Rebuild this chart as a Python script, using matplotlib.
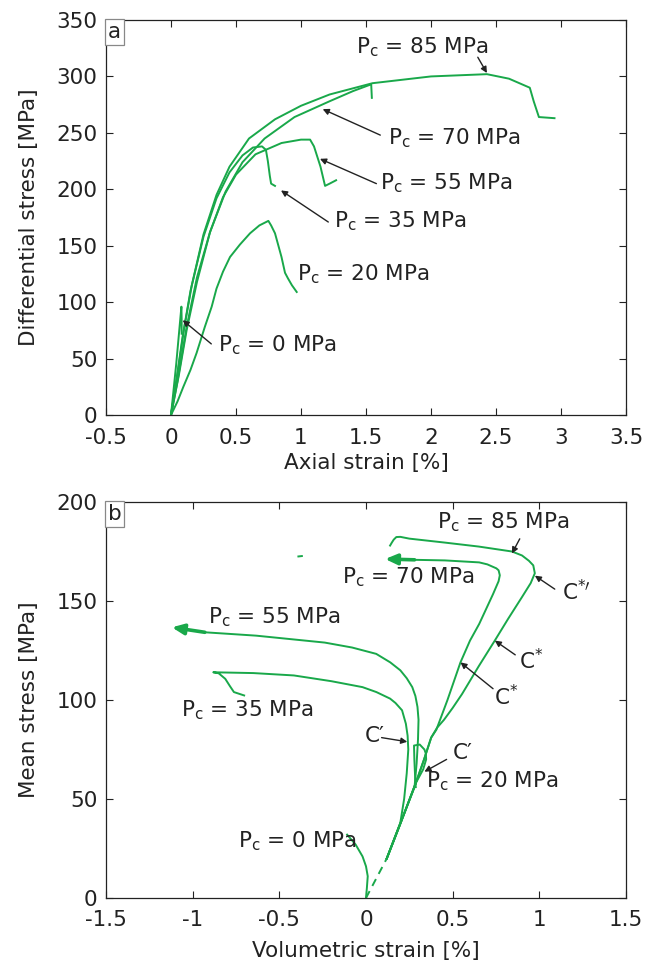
import matplotlib
matplotlib.use('Agg')
import matplotlib.pyplot as plt

plt.rcParams['font.family'] = ['DejaVu Sans']
plt.rcParams['mathtext.fontset'] = 'dejavusans'

green = '#19a84a'
txt = '#222222'
fs = 15.5

# ---- panel a: axial strain [%] vs differential stress [MPa]
a_x0 = [0, 0.04, 0.08, 0.082, 0.082]
a_y0 = [0, 45, 96, 85, 72]
a_x20 = [0, 0.05, 0.095, 0.15, 0.197, 0.26, 0.313, 0.35, 0.4, 0.454, 0.53, 0.608, 0.68, 0.749, 0.77, 0.8, 0.85, 0.877, 0.9, 0.93, 0.967]
a_y20 = [0, 12, 25, 40, 55, 78, 96, 112, 127, 140, 151, 161, 168, 172, 168, 161, 140, 126, 121, 115, 109]
a_x35 = [0, 0.04, 0.09, 0.15, 0.25, 0.35, 0.45, 0.55, 0.63, 0.7, 0.73, 0.745, 0.76, 0.77, 0.8]
a_y35 = [0, 30, 70, 110, 158, 192, 215, 230, 237, 238, 235, 225, 212, 205, 203]
a_x55 = [0, 0.06, 0.12, 0.2, 0.3, 0.4, 0.5, 0.65, 0.85, 1.0, 1.07, 1.1, 1.15, 1.185, 1.22, 1.27]
a_y55 = [0, 35, 75, 118, 162, 193, 213, 231, 241, 244, 244, 238, 220, 203, 205, 208]
a_x70 = [0, 0.05, 0.12, 0.2, 0.3, 0.42, 0.55, 0.72, 0.95, 1.22, 1.4, 1.54, 1.545]
a_y70 = [0, 30, 78, 122, 162, 198, 224, 245, 264, 278, 287, 293, 281]
a_x85 = [0, 0.05, 0.1, 0.16, 0.25, 0.35, 0.45, 0.6, 0.8, 1.0, 1.22, 1.55, 2.0, 2.43, 2.6, 2.76, 2.79, 2.83, 2.95]
a_y85 = [0, 36, 76, 115, 160, 195, 220, 245, 262, 274, 284, 294, 300, 302, 298, 290, 278, 264, 263]

a_labels = ['P$_\\mathregular{c}$ = 0 MPa', 'P$_\\mathregular{c}$ = 20 MPa', 'P$_\\mathregular{c}$ = 35 MPa',
            'P$_\\mathregular{c}$ = 55 MPa', 'P$_\\mathregular{c}$ = 70 MPa', 'P$_\\mathregular{c}$ = 85 MPa']
a_label_xy = [(0.36, 62), (0.97, 125), (1.25, 172), (1.61, 205), (1.67, 245), (1.42, 326)]
a_arrow_from = [(0.31, 63), None, (1.21, 171), (1.58, 205), (1.61, 248), (2.36, 317)]
a_arrow_to = [(0.09, 84), None, (0.846, 199), (1.146, 227), (1.167, 271), (2.43, 303)]

# ---- panel b: volumetric strain [%] vs mean stress [MPa]
b_x_dash = [0.0, 0.06, 0.12]
b_y_dash = [0, 10, 20]
b_x0 = [0.0, 0.005, 0.01, 0.0, -0.02, -0.06, -0.109]
b_y0 = [0, 5, 11, 16, 21, 27, 32]
b_x20 = [0.12, 0.2, 0.287, 0.33, 0.347, 0.345, 0.337, 0.31, 0.277, 0.279, 0.283, 0.287]
b_y20 = [20, 38, 58, 65, 70, 73, 75, 77.5, 77, 70, 62, 56]
b_x35 = [0.12, 0.198, 0.22, 0.235, 0.244, 0.24, 0.23, 0.208, 0.17, 0.139, 0.06, -0.02, -0.2, -0.416, -0.65, -0.881, -0.85, -0.812, -0.785, -0.762, -0.703]
b_y35 = [20, 38, 50, 63, 75, 82, 88, 94.8, 98.5, 100.7, 104, 106.5, 109.5, 112.4, 113.6, 114, 113.5, 110.7, 107, 104, 102.3]
b_x55 = [0.12, 0.2, 0.28, 0.292, 0.3, 0.303, 0.297, 0.285, 0.267, 0.235, 0.198, 0.14, 0.059, -0.08, -0.238, -0.634, -0.93]
b_y55 = [20, 38, 56, 68, 80, 90, 96.5, 102, 106.5, 111, 115, 119, 123.3, 126.5, 129, 132.5, 134.2]
b_x70 = [0.12, 0.2, 0.287, 0.335, 0.376, 0.406, 0.47, 0.545, 0.6, 0.653, 0.733, 0.765, 0.772, 0.765, 0.752, 0.7, 0.653, 0.455, 0.28]
b_y70 = [20, 38, 58, 70, 81, 85, 100, 119, 130, 138.4, 153.5, 160, 163, 165.5, 166.5, 168.5, 169.5, 170.5, 170.8]
b_x85 = [0.12, 0.2, 0.287, 0.335, 0.376, 0.41, 0.45, 0.5, 0.554, 0.65, 0.743, 0.82, 0.9, 0.95, 0.974, 0.965, 0.94, 0.9, 0.842, 0.65, 0.455, 0.25, 0.198, 0.175, 0.16, 0.149, 0.139]
b_y85 = [20, 38, 58, 70, 81, 86, 90, 96, 103, 117, 130, 141, 152, 159, 164, 168, 170.3, 173, 175, 177.5, 179.5, 181.5, 182.4, 182.3, 181, 179.5, 178]
b_x_stray = [-0.39, -0.37]
b_y_stray = [172.5, 172.7]

# thick arrows at end of the 55 and 70 MPa paths
b_arrow_from = [(-0.93, 134.2), (0.28, 170.8)]
b_arrow_to = [(-1.12, 136.7), (0.11, 171.2)]

b_labels = ['P$_\\mathregular{c}$ = 0 MPa', 'P$_\\mathregular{c}$ = 20 MPa', 'P$_\\mathregular{c}$ = 35 MPa',
            'P$_\\mathregular{c}$ = 55 MPa', 'P$_\\mathregular{c}$ = 70 MPa', 'P$_\\mathregular{c}$ = 85 MPa',
            'C\u2032', 'C\u2032', 'C$^{*}$', 'C$^{*}$', 'C$^{*\\prime}$']
b_label_xy = [(-0.74, 28.5), (0.345, 59), (-1.07, 95), (-0.91, 142), (-0.14, 162), (0.41, 190),
              (-0.01, 82), (0.5, 73), (0.74, 101.5), (0.88, 120), (1.13, 154.5)]
b_arrow_src = [None, None, None, None, None, (0.887, 181.4),
               (0.09, 81), (0.465, 70), (0.733, 105.7), (0.861, 122.8), (1.089, 156)]
b_arrow_dst = [None, None, None, None, None, (0.842, 174),
               (0.238, 78.9), (0.337, 63.8), (0.545, 119), (0.743, 130), (0.974, 162.8)]

fig = plt.figure(figsize=(6.5, 9.63), dpi=100)
ax1 = fig.add_axes([106 / 650, 1 - 415 / 963, 520 / 650, 395 / 963])
ax2 = fig.add_axes([106 / 650, 1 - 898 / 963, 520 / 650, 396 / 963])

thin = dict(arrowstyle='-|>', color=txt, lw=1.0, mutation_scale=9, shrinkA=0, shrinkB=0)

for xs, ys in [(a_x0, a_y0), (a_x20, a_y20), (a_x35, a_y35), (a_x55, a_y55), (a_x70, a_y70), (a_x85, a_y85)]:
    ax1.plot(xs, ys, color=green, lw=1.4)
for lab, xy, src, dst in zip(a_labels, a_label_xy, a_arrow_from, a_arrow_to):
    ax1.text(xy[0], xy[1], lab, fontsize=fs, color=txt, ha='left', va='center')
    if src is not None:
        ax1.annotate('', xy=dst, xytext=src, arrowprops=thin)

ax1.set_xlim(-0.5, 3.5)
ax1.set_ylim(0, 350)
ax1.set_xticks([-0.5, 0, 0.5, 1, 1.5, 2, 2.5, 3, 3.5])
ax1.set_xticklabels(['-0.5', '0', '0.5', '1', '1.5', '2', '2.5', '3', '3.5'])
ax1.set_yticks(range(0, 351, 50))
ax1.set_xlabel('Axial strain [%]', fontsize=fs, color=txt)
ax1.set_ylabel('Differential stress [MPa]', fontsize=fs, color=txt)
ax1.xaxis.set_label_coords(0.5, -0.097)
ax1.yaxis.set_label_coords(-0.128, 0.5)

ax2.plot(b_x_dash, b_y_dash, color=green, lw=1.4, ls=(0, (4, 3)))
for xs, ys in [(b_x0, b_y0), (b_x20, b_y20), (b_x35, b_y35), (b_x55, b_y55), (b_x70, b_y70), (b_x85, b_y85), (b_x_stray, b_y_stray)]:
    ax2.plot(xs, ys, color=green, lw=1.4)
for src, dst in zip(b_arrow_from, b_arrow_to):
    ax2.annotate('', xy=dst, xytext=src,
                 arrowprops=dict(arrowstyle='-|>,head_length=0.5,head_width=0.22', color=green, lw=2.6,
                                 mutation_scale=14, shrinkA=0, shrinkB=0))
for lab, xy, src, dst in zip(b_labels, b_label_xy, b_arrow_src, b_arrow_dst):
    ax2.text(xy[0], xy[1], lab, fontsize=fs, color=txt, ha='left', va='center')
    if src is not None:
        ax2.annotate('', xy=dst, xytext=src, arrowprops=thin)

ax2.set_xlim(-1.5, 1.5)
ax2.set_ylim(0, 200)
ax2.set_xticks([-1.5, -1, -0.5, 0, 0.5, 1, 1.5])
ax2.set_xticklabels(['-1.5', '-1', '-0.5', '0', '0.5', '1', '1.5'])
ax2.set_yticks(range(0, 201, 50))
ax2.set_xlabel('Volumetric strain [%]', fontsize=fs, color=txt)
ax2.set_ylabel('Mean stress [MPa]', fontsize=fs, color=txt)
ax2.xaxis.set_label_coords(0.5, -0.108)
ax2.yaxis.set_label_coords(-0.128, 0.5)

for ax, letter in [(ax1, 'a'), (ax2, 'b')]:
    ax.tick_params(direction='in', top=True, right=True, length=5, width=0.8,
                   labelsize=fs, colors=txt)
    ax.tick_params(axis='x', pad=9)
    ax.tick_params(axis='y', pad=6)
    for s in ax.spines.values():
        s.set_color(txt)
        s.set_linewidth(0.9)
    ax.text(0.004, 0.995, letter, transform=ax.transAxes, fontsize=fs, color=txt,
            ha='left', va='top',
            bbox=dict(boxstyle='square,pad=0.12', fc='white', ec='#888888', lw=0.9))

fig.savefig('out.png', dpi=100)
